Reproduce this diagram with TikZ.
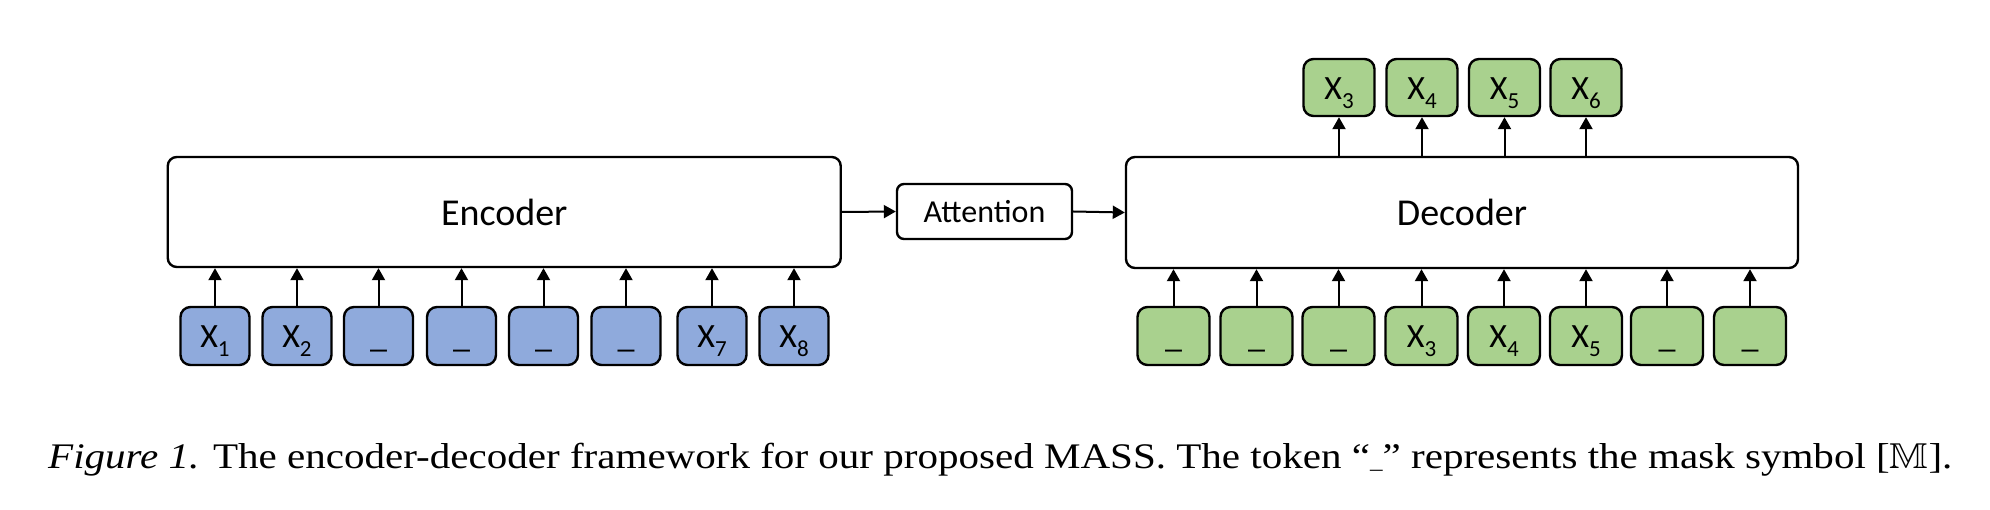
\documentclass[tikz,border=0pt]{standalone}
\usepackage{amssymb}
\usepackage{fontspec}
\setmainfont{Liberation Serif}
\newfontfamily\calib{Carlito}
\usetikzlibrary{arrows.meta}
\definecolor{tokblue}{HTML}{8FAADC}
\definecolor{tokgreen}{HTML}{A9D18E}
\newcommand{\Xsub}[1]{X\raisebox{-9pt}{\fontsize{23}{23}\selectfont #1}}
\newcommand{\msk}{\_}
\begin{document}
\begin{tikzpicture}[x=1pt,y=-1pt,
  bigbox/.style={draw=black,line width=2.4pt,rounded corners=9pt,fill=white,inner sep=0pt,
    font=\calib\fontsize{38}{40}\selectfont},
  attbox/.style={draw=black,line width=2.4pt,rounded corners=7pt,fill=white,inner sep=0pt,
    minimum width=175pt,minimum height=55pt,font=\calib\fontsize{32}{34}\selectfont},
  tok/.style={draw=black,line width=2.4pt,rounded corners=10pt,inner sep=0pt,
    minimum height=58pt,text height=24pt,text depth=0pt,font=\calib\fontsize{34}{36}\selectfont},
  enctok/.style={tok,fill=tokblue,minimum width=69pt},
  dectok/.style={tok,fill=tokgreen,minimum width=72pt},
  outtok/.style={tok,fill=tokgreen,minimum width=71pt,minimum height=57pt},
  arr/.style={line width=2pt,-{Triangle[length=12pt,width=13pt]}},
  captxt/.style={anchor=base west,inner sep=0pt,font=\fontsize{36}{40}\selectfont}
]
\useasboundingbox (0,0) rectangle (1990,510);

% main boxes
\node[bigbox,minimum width=673pt,minimum height=110pt] (enc) at (504.25,212) {Encoder};
\node[attbox] (att) at (984.5,211.5) {Attention};
\node[bigbox,minimum width=672pt,minimum height=111pt] (dec) at (1462,212.5) {Decoder};

% encoder tokens
\node[enctok] (e1) at (215,336) {\Xsub{1}};
\node[enctok] (e2) at (297,336) {\Xsub{2}};
\node[enctok] (e3) at (378.5,336) {\msk};
\node[enctok] (e4) at (461.5,336) {\msk};
\node[enctok] (e5) at (543.5,336) {\msk};
\node[enctok] (e6) at (626,336) {\msk};
\node[enctok] (e7) at (712,336) {\Xsub{7}};
\node[enctok] (e8) at (794,336) {\Xsub{8}};

% decoder tokens
\node[dectok] (d1) at (1173.5,336) {\msk};
\node[dectok] (d2) at (1256.5,336) {\msk};
\node[dectok] (d3) at (1338.5,336) {\msk};
\node[dectok] (d4) at (1421.5,336) {\Xsub{3}};
\node[dectok] (d5) at (1504,336) {\Xsub{4}};
\node[dectok] (d6) at (1586,336) {\Xsub{5}};
\node[dectok] (d7) at (1667,336) {\msk};
\node[dectok] (d8) at (1750,336) {\msk};

% output tokens
\node[outtok] (o3) at (1339,87.5) {\Xsub{3}};
\node[outtok] (o4) at (1422,87.5) {\Xsub{4}};
\node[outtok] (o5) at (1504.5,87.5) {\Xsub{5}};
\node[outtok] (o6) at (1586,87.5) {\Xsub{6}};

% arrows
\foreach \t in {e1,e2,e3,e4,e5,e6,e7,e8}
  \draw[arr] (\t.north) -- (\t.north |- enc.south);
\foreach \t in {d1,d2,d3,d4,d5,d6,d7,d8}
  \draw[arr] (\t.north) -- (\t.north |- dec.south);
\foreach \t in {o3,o4,o5,o6}
  \draw[arr] (\t.south |- dec.north) -- (\t.south);
\draw[arr] (enc.east) -- (att.west);
\draw[arr] (att.east) -- (dec.west);

% caption
\node[captxt] (cap) at (48,468) {\scalebox{1.14}[1]{\textit{Figure 1.} The encoder-decoder framework for our proposed MASS. The token “{\fontsize{22}{22}\selectfont\_}” represents the mask symbol [$\mathbb{M}$].}};
\end{tikzpicture}
\end{document}
